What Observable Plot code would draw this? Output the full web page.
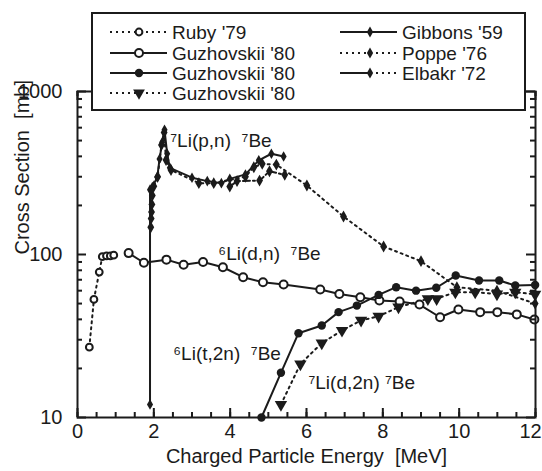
<!DOCTYPE html>
<html><head><meta charset="utf-8">
<script src="https://cdn.jsdelivr.net/npm/d3@7"></script>
<script src="https://cdn.jsdelivr.net/npm/@observablehq/plot@0.6"></script>
<style>
body{margin:0;background:#fff;}
#chart{width:542px;height:471px;}
</style></head><body><div id="chart"></div>
<script>
// ---- data (energy MeV, cross section mb) ----
const rubyE = [0.31,0.43,0.57,0.65,0.76,0.86,0.95];
const rubyV = [27,53,78,97,98,98,99];
const guzDnE = [1.34,1.74,2.33,2.78,3.29,3.81,4.34,4.86,5.40,6.36,6.86,7.41,7.91,8.44,8.96,9.50,9.98,10.55,11.0,11.51,11.97];
const guzDnV = [102,89,93,86.5,90,83.5,72.6,67.6,65.4,61,57.2,54.7,52.2,51.5,49.3,41.2,46,44.3,44.3,42.9,39.9];
const guzT2nE = [4.82,5.33,5.79,6.40,6.84,7.32,7.89,8.35,8.87,9.40,9.91,10.52,11.05,11.47,11.99];
const guzT2nV = [10,18.8,32.9,36.7,44.3,48.6,56.5,63,60,62.5,74.3,69.2,69.2,64.5,65];
const guzD2nE = [5.33,5.84,6.40,6.93,7.43,7.89,8.41,9.18,9.41,9.90,10.42,10.99,11.47,11.99];
const guzD2nV = [12,21.3,28.6,34.2,39.4,41.8,47.5,53.5,53.5,58.7,58.7,57.2,58.7,57];
const gibbonsE = [1.90,1.90,1.96,2.09,2.15,2.22,2.28,2.35,2.42,3.0,3.4,3.77,3.99,4.4,4.75,5.08,5.40];
const gibbonsV = [12,250,259,298,386,489,582,415,340,296,282,274,291,310,378,415,399];
const poppeE = [1.92,1.93,1.94,1.95,1.96,2.0,2.1,2.2,2.27,2.32,2.45,3.18,3.57,4.4,4.62,4.84,5.21,6.01,6.97,8.02,9.0,9.94,10.99,11.99];
const poppeV = [147,166,182,203,230,262,300,470,560,380,330,274,274,300,343,360,356,265,171,112,91,63,60,50];
const elbakrE = [3.99,4.18,4.77,5.03,5.43];
const elbakrV = [261,282,284,324,308];

const legendNames = ["Ruby '79","Guzhovskii '80","Guzhovskii '80","Guzhovskii '80","Gibbons '59","Poppe '76","Elbakr '72"];
const xMajor = [0,2,4,6,8,10];
const xLast = [12];
const xTicksMajor = [0,2,4,6,8,10,12];
const xMinor = d3.range(0,12.01,0.5);
const yMajor = [10,100,1000];
const yMinor = [20,30,40,50,60,70,80,90,200,300,400,500,600,700,800,900];
const xTitle = "Charged Particle Energy  [MeV]";
const yTitle = "Cross Section  [mb]";
const labelX = [2.43,3.69,2.51,6.05];
const labelY = [500,101,24.7,16.2];
const labelT = ["⁷Li(p,n)  ⁷Be","⁶Li(d,n)  ⁷Be","⁶Li(t,2n)  ⁷Be","⁷Li(d,2n) ⁷Be"];

const toRows = (E,V) => E.map((e,i)=>({e, v:V[i]}));
const ruby = toRows(rubyE,rubyV), gdn = toRows(guzDnE,guzDnV), gt2n = toRows(guzT2nE,guzT2nV),
      gd2n = toRows(guzD2nE,guzD2nV), gib = toRows(gibbonsE,gibbonsV), pop = toRows(poppeE,poppeV),
      elb = toRows(elbakrE,elbakrV);
const labels = labelT.map((t,i)=>({t, x:labelX[i], y:labelY[i]}));

const ink = "#1b1b1b";
const font = "'Liberation Sans', Arial, Helvetica, sans-serif";
const dots = "2,4";
const xy = {x:"e", y:"v"};
const W = 542, H = 471, ML = 77, MR = 7, MT = 91, MB = 54;
const PW = W - ML - MR, PH = H - MT - MB;
const tk = {stroke:ink, strokeWidth:2};

const svg = Plot.plot({
  width:W, height:H,
  marginLeft:ML, marginRight:MR, marginTop:MT, marginBottom:MB,
  style:{fontFamily:font, fontSize:"20px", color:ink, background:"#fff", overflow:"visible"},
  x:{domain:[0,12]},
  y:{type:"log", domain:[10,1000]},
  marks:[
    // lines
    Plot.line(ruby, {...xy, stroke:ink, strokeWidth:2, strokeDasharray:dots}),
    Plot.line(pop, {...xy, stroke:ink, strokeWidth:2, strokeDasharray:dots}),
    Plot.line(elb, {...xy, stroke:ink, strokeWidth:2, strokeDasharray:"7,3,2,3"}),
    Plot.line(gib, {...xy, stroke:ink, strokeWidth:2}),
    Plot.line(gdn, {...xy, stroke:ink, strokeWidth:2}),
    Plot.line(gt2n, {...xy, stroke:ink, strokeWidth:2}),
    Plot.line(gd2n, {...xy, stroke:ink, strokeWidth:2, strokeDasharray:dots}),
    // markers
    Plot.dot(pop, {...xy, symbol:"diamond", r:3.6, fill:ink, stroke:"none"}),
    Plot.dot(elb, {...xy, symbol:"diamond", r:3.6, fill:ink, stroke:"none"}),
    Plot.dot(gib, {...xy, symbol:"diamond", r:3.2, fill:ink, stroke:"none"}),
    Plot.dot(ruby, {...xy, r:3.4, fill:"#fff", stroke:ink, strokeWidth:2}),
    Plot.dot(gdn, {...xy, r:4, fill:"#fff", stroke:ink, strokeWidth:2}),
    Plot.dot(gt2n, {...xy, r:4.2, fill:ink, stroke:"none"}),
    Plot.dot(gd2n, {...xy, symbol:"triangle", r:4.6, rotate:180, fill:ink, stroke:"none"}),
    // annotations
    Plot.text(labels, {x:"x", y:"y", text:"t", textAnchor:"start", fill:ink, fontSize:19}),
    // ticks (inward)
    Plot.tickX(xTicksMajor, {x:d=>d, insetTop:PH-9, ...tk}),
    Plot.tickX(xMinor, {x:d=>d, insetTop:PH-5, ...tk}),
    Plot.tickX(xTicksMajor, {x:d=>d, insetBottom:PH-9, ...tk}),
    Plot.tickX(xMinor, {x:d=>d, insetBottom:PH-5, ...tk}),
    Plot.tickY(yMajor, {y:d=>d, insetRight:PW-9, ...tk}),
    Plot.tickY(yMinor, {y:d=>d, insetRight:PW-5, ...tk}),
    Plot.tickY(yMajor, {y:d=>d, insetLeft:PW-9, ...tk}),
    Plot.tickY(yMinor, {y:d=>d, insetLeft:PW-5, ...tk}),
    Plot.frame({stroke:ink, strokeWidth:2}),
    // tick labels
    Plot.axisX({ticks:xMajor, tickSize:0, tickPadding:6, tickFormat:d=>String(d), label:null, fill:ink}),
    Plot.axisX({ticks:xLast, tickSize:0, tickPadding:6, dx:-5, tickFormat:d=>String(d), label:null, fill:ink}),
    Plot.axisY({ticks:yMajor, tickSize:0, tickPadding:15, tickFormat:d=>String(d), label:null, fill:ink}),
    // axis titles
    Plot.text([xTitle], {frameAnchor:"bottom", dy:45, text:d=>d, fill:ink, fontSize:20}),
    Plot.text([yTitle], {frameAnchor:"left", dx:-55, rotate:-90, text:d=>d, fill:ink, fontSize:20})
  ]
});
document.getElementById("chart").appendChild(svg);

// ---- legend (drawn over the plot frame, as in the reference) ----
const lg = d3.select(svg).append("g").attr("font-family", font).attr("font-size", 19)
  .attr("fill", ink).attr("text-anchor","start");
lg.append("rect").attr("x",92).attr("y",13).attr("width",433).attr("height",97)
  .attr("fill","#fff").attr("stroke",ink).attr("stroke-width",2);
const rowY = [32,53,73,93];
const entries = [
  {col:0,row:0,dash:dots,mark:"openSmall"},
  {col:0,row:1,dash:null,mark:"open"},
  {col:0,row:2,dash:null,mark:"filled"},
  {col:0,row:3,dash:dots,mark:"tri"},
  {col:1,row:0,dash:null,mark:"diamond"},
  {col:1,row:1,dash:dots,mark:"diamond"},
  {col:1,row:2,dash:"mixed",mark:"diamond"}
];
const colX = [{x1:110,x2:167,m:139,t:172},{x1:340,x2:397,m:370,t:402}];
entries.forEach((en,i)=>{
  const c = colX[en.col], y = rowY[en.row];
  if (en.dash === "mixed") {
    lg.append("line").attr("x1",c.x1).attr("x2",c.m).attr("y1",y).attr("y2",y).attr("stroke",ink).attr("stroke-width",2);
    lg.append("line").attr("x1",c.m).attr("x2",c.x2).attr("y1",y).attr("y2",y).attr("stroke",ink).attr("stroke-width",2).attr("stroke-dasharray",dots);
  } else {
    const l = lg.append("line").attr("x1",c.x1).attr("x2",c.x2).attr("y1",y).attr("y2",y).attr("stroke",ink).attr("stroke-width",2);
    if (en.dash) l.attr("stroke-dasharray",en.dash);
  }
  const g = lg.append("g").attr("transform",`translate(${c.m},${y})`);
  if (en.mark==="open"||en.mark==="openSmall") g.append("circle").attr("r",en.mark==="open"?4:3.4).attr("fill","#fff").attr("stroke",ink).attr("stroke-width",2);
  if (en.mark==="filled") g.append("circle").attr("r",4.2).attr("fill",ink);
  if (en.mark==="tri") g.append("path").attr("d",d3.symbol(d3.symbolTriangle, 60)()).attr("transform","rotate(180)").attr("fill",ink);
  if (en.mark==="diamond") g.append("path").attr("d",d3.symbol(d3.symbolDiamond, 34)()).attr("fill",ink);
  lg.append("text").attr("x",c.t).attr("y",y).attr("dy","0.35em").text(legendNames[i]);
});
</script>
</body></html>
